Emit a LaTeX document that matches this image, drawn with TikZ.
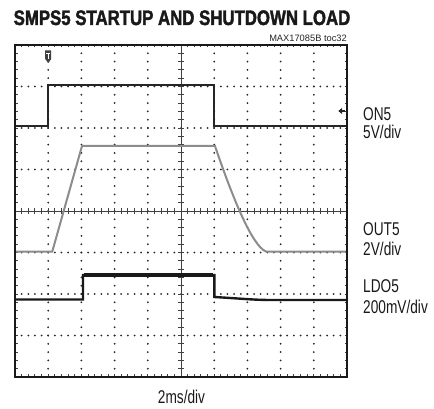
\documentclass[tikz,border=0pt]{standalone}
\usepackage{fontspec}
\setmainfont{Liberation Sans}
\newfontfamily\narrowfont[FakeStretch=0.74]{Liberation Sans}
\newfontfamily\headfont[FakeStretch=0.80, BoldFeatures={FakeBold=1.8}]{Liberation Sans}
\usetikzlibrary{positioning}

\tikzset{
  scope frame/.style={line width=2pt, black!90},
  grid dot/.style={fill=black!85},
  axis line/.style={line width=1pt, black!75},
  trace on/.style={line width=2pt, black!85},
  trace out/.style={line width=2pt, black!45},
  trace ldo/.style={line width=2.4pt, black!90},
  chan label/.style={anchor=base west, inner sep=0pt, text=black!90,
    font=\narrowfont\fontsize{18.5}{20}\selectfont},
}

\begin{document}
\begin{tikzpicture}[x=1pt,y=-1pt]
\useasboundingbox (0,0) rectangle (434,409);

% dotted grid, 10 x 8 divisions
\foreach \i in {1,2,3,4,6,7,8,9}{
  \foreach \k in {1,...,39}
    \fill[grid dot] ({15+33.2*\i},{45+8.3*\k}) circle (1);
}
\foreach \j in {1,2,3,5,6,7}{
  \foreach \k in {1,...,49}
    \fill[grid dot] ({15+6.64*\k},{45+41.5*\j}) circle (1);
}

% centre axes with minor ticks
\draw[axis line] (181,45) -- (181,377);
\draw[axis line] (15,211) -- (347,211);
\foreach \k in {1,...,49}{
  \draw[axis line, line width=0.9pt] ({15+6.64*\k},208.3) -- ({15+6.64*\k},213.7);
  \draw[axis line, line width=0.9pt] ({15+6.64*\k},377) -- ({15+6.64*\k},374);
  \draw[axis line, line width=0.9pt] ({15+6.64*\k},45) -- ({15+6.64*\k},47.5);
}
\foreach \k in {1,...,39}{
  \draw[axis line, line width=0.9pt] (178.3,{45+8.3*\k}) -- (183.7,{45+8.3*\k});
  \draw[axis line, line width=0.9pt] (15,{45+8.3*\k}) -- (17.5,{45+8.3*\k});
  \draw[axis line, line width=0.9pt] (347,{45+8.3*\k}) -- (344.5,{45+8.3*\k});
}

% traces
\draw[trace out] (15,251.5) -- (52.3,251.5) -- (82,146) -- (215,146)
  .. controls (232,196) and (252,246) .. (266,251.5) -- (347,251.5);
\draw[trace on] (15,126.5) -- (48.2,126.5) -- (48.2,85) -- (214.2,85)
  -- (214.2,126.5) -- (347,126.5);
\draw[trace ldo] (15,299.5) -- (83,299.5) -- (83,275) -- (214.3,275)
  -- (214.3,297) .. controls (240,298.5) and (255,300) .. (270,300) -- (347,300);
\draw[trace ldo, line width=3.4pt] (84,275) -- (213.3,275);

% markers
\fill[black!75] (45.2,50.5) -- (51.2,50.5) -- (51.2,59) -- (48.2,63)
  -- (45.2,59) -- cycle;
\draw[white, line width=0.8pt] (46.4,53) -- (50,53) (48.2,53) -- (48.2,59.5);
\fill[black!85] (338.3,111) -- (342,108) -- (342,114) -- cycle;
\draw[black!85, line width=1.2pt] (341,111) -- (345,111);

\draw[scope frame] (15,45) rectangle (347,377);

% labels
\node[anchor=base, inner sep=0pt, text=black!90,
  font=\headfont\bfseries\fontsize{21}{24}\selectfont] (title) at (182,25)
  {SMPS5 STARTUP AND SHUTDOWN LOAD};
\node[anchor=base east, inner sep=0pt, text=black!85,
  font=\fontsize{9.3}{10}\selectfont] (tocref) at (347,41.7) {MAX17085B toc32};
\node[chan label] (on5) at (363,120.5) {ON5};
\node[chan label] (on5div) at (363,138.5) {5V/div};
\node[chan label] (out5) at (363,236) {OUT5};
\node[chan label] (out5div) at (363,255) {2V/div};
\node[chan label] (ldo5) at (363,292.5) {LDO5};
\node[chan label] (ldo5div) at (363,313) {200mV/div};
\node[chan label, anchor=base] (tdiv) at (181.5,403) {2ms/div};
\end{tikzpicture}
\end{document}
